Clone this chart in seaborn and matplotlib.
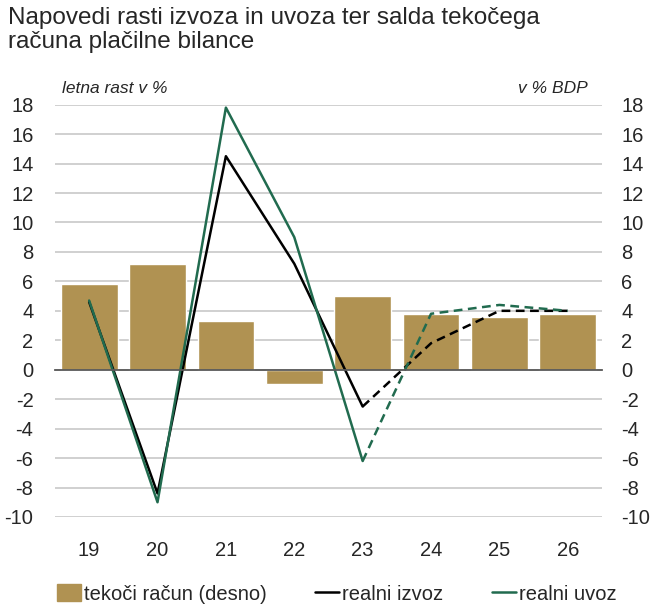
import numpy as np
import pandas as pd
import matplotlib
matplotlib.use("Agg")
import matplotlib.pyplot as plt
import seaborn as sns
from matplotlib.lines import Line2D
from matplotlib.patches import Patch

# data
years = ["19", "20", "21", "22", "23", "24", "25", "26"]
current_account = [5.8, 7.2, 3.3, -1.0, 5.0, 3.8, 3.6, 3.8]
real_exports = [4.6, -8.4, 14.5, 7.2, -2.5, 1.8, 4.0, 4.0]
real_imports = [4.7, -9.0, 17.8, 9.0, -6.2, 3.8, 4.4, 4.0]
last_actual = 4  # index of "23", where the forecast (dashed) starts

GOLD = "#b09252"
GREEN = "#216b4f"
GRID = "#c8c8c8"

sns.set_theme(style="white")
plt.rcParams["font.family"] = ["Liberation Sans", "DejaVu Sans"]
plt.rcParams["axes.unicode_minus"] = False

df = pd.DataFrame({"year": years, "ca": current_account,
                   "exp": real_exports, "imp": real_imports})
df["x"] = np.arange(len(years))

fig = plt.figure(figsize=(6.54, 6.05), dpi=100)
ax2 = fig.add_axes([0.084, 0.1455, 0.8365, 0.6815])
ax = ax2.twinx()
ax2.set_zorder(0)
ax.set_zorder(1)
ax.patch.set_visible(False)

# bars on the right axis
sns.barplot(data=df, x="year", y="ca", color=GOLD, width=0.83,
            saturation=1, ax=ax2, zorder=2)

# lines: solid actuals, dashed forecast
act = df.iloc[:last_actual + 1]
fc = df.iloc[last_actual:]
for col, c in [("exp", "black"), ("imp", GREEN)]:
    sns.lineplot(data=act, x="x", y=col, color=c, lw=1.8, ax=ax)
    sns.lineplot(data=fc, x="x", y=col, color=c, lw=1.8, ax=ax,
                 linestyle=(0, (3.5, 2.2)))

yt = np.arange(-10, 19, 2)
for a in (ax, ax2):
    a.set_ylim(-10, 18)
    a.set_yticks(yt)
    a.set_xlim(-0.5, len(years) - 0.5)
    a.set_xlabel("")
    a.set_ylabel("")
    for s in a.spines.values():
        s.set_visible(False)

ax2.yaxis.grid(True, color=GRID, lw=1.2, zorder=0)
ax2.set_axisbelow(True)
ax2.tick_params(axis="y", left=True, right=False, labelleft=True, labelright=False,
                length=0, pad=15.5, labelsize=14.5)
ax.tick_params(axis="y", left=False, right=False, labelleft=False, labelright=True,
               length=0, pad=14, labelsize=14.5)
for lab in ax.get_yticklabels():
    lab.set_horizontalalignment("left")

# category axis line at zero with boundary ticks
ax.spines["bottom"].set_visible(True)
ax.spines["bottom"].set_position(("data", 0))
ax.spines["bottom"].set_color("#595959")
ax.spines["bottom"].set_linewidth(1.3)
ax.set_xticks(np.arange(len(years) + 1) - 0.5)
ax.tick_params(axis="x", bottom=True, direction="out", length=5, width=1.2,
               color="#595959", labelbottom=False)
ax2.tick_params(axis="x", bottom=False, labelbottom=False)

sec = ax.secondary_xaxis("bottom")
sec.set_xticks(df["x"], years)
sec.tick_params(length=0, pad=17, labelsize=14.5)
sec.spines["bottom"].set_visible(False)

fig.text(0.095, 0.842, "letna rast v %", style="italic", fontsize=12.5, va="bottom")
fig.text(0.898, 0.842, "v % BDP", style="italic", fontsize=12.5, va="bottom", ha="right")
fig.text(0.012, 0.988, "Napovedi rasti izvoza in uvoza ter salda tekočega\nračuna plačilne bilance",
         fontsize=17.5, va="top", ha="left", linespacing=1.1)

handles = [Patch(color=GOLD, label="tekoči račun (desno)"),
           Line2D([], [], color="black", lw=1.8, label="realni izvoz"),
           Line2D([], [], color=GREEN, lw=1.8, label="realni uvoz")]
fig.legend(handles=handles, loc="center", bbox_to_anchor=(0.515, 0.018), ncol=3,
           frameon=False, fontsize=14.5, handlelength=1.2, handletextpad=0.15,
           columnspacing=2.4, handleheight=0.9)

fig.savefig("out.png", dpi=100)
